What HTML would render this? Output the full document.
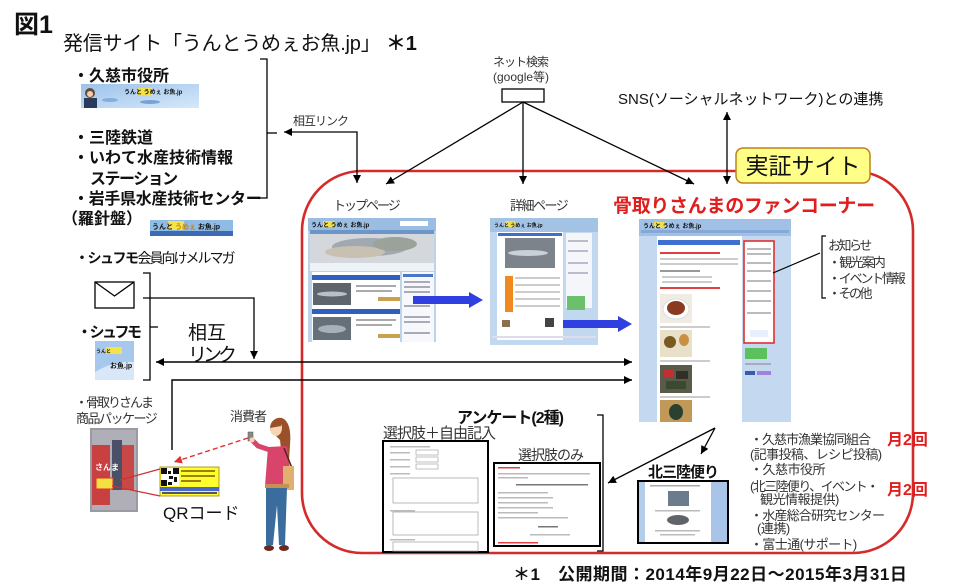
<!DOCTYPE html>
<html><head><meta charset="utf-8"><style>
html,body{margin:0;padding:0;background:#fff;}
body{width:960px;height:586px;overflow:hidden;}
svg{display:block;}
text{font-family:"Liberation Sans","Noto Sans CJK JP",sans-serif;fill:#111;}
.b{font-weight:bold;}
.g{fill:#333;}
</style></head><body>
<svg width="960" height="586" viewBox="0 0 960 586" xmlns="http://www.w3.org/2000/svg">
<defs>
<marker id="ah" viewBox="0 0 10 10" refX="10" refY="5" markerWidth="8" markerHeight="8" markerUnits="userSpaceOnUse" orient="auto-start-reverse"><path d="M0,0 L10,5 L0,10 z" fill="#000"/></marker>
<marker id="ahr" viewBox="0 0 10 10" refX="10" refY="5" markerWidth="8" markerHeight="8" markerUnits="userSpaceOnUse" orient="auto"><path d="M0,0 L10,5 L0,10 z" fill="#d33"/></marker>
<linearGradient id="bn" x1="0" y1="0" x2="1" y2="1"><stop offset="0" stop-color="#9cc2ea"/><stop offset="1" stop-color="#d6e8fa"/></linearGradient>
</defs>

<!-- red border -->
<path d="M362,171 H853 A60,60 0 0 1 913,231 V493 A60,60 0 0 1 853,553 H362 A60,60 0 0 1 302,493 V231 A60,60 0 0 1 362,171 Z" fill="none" stroke="#d42a2a" stroke-width="2.6"/>

<!-- title -->
<text x="14" y="33" font-size="25" class="b">図1</text>
<text x="63" y="50" font-size="20" letter-spacing="-0.2">発信サイト「うんとうめぇお魚.jp」 <tspan class="b">＊1</tspan></text>

<!-- left list -->
<text x="73" y="81" font-size="16" class="b">・久慈市役所</text>
<text x="73" y="143" font-size="16" class="b">・三陸鉄道</text>
<text x="73" y="163" font-size="16" class="b">・いわて水産技術情報</text>
<text x="90" y="184" font-size="16" class="b" letter-spacing="-1.5">ステーション</text>
<text x="73" y="204" font-size="16" class="b" letter-spacing="-0.3">・岩手県水産技術センター</text>
<text x="62" y="224" font-size="16" class="b">（羅針盤）</text>

<!-- banner 1 -->
<rect x="81" y="84" width="118" height="24" fill="url(#bn)"/>
<circle cx="90" cy="93" r="5" fill="#6a4a30"/>
<rect x="84" y="98" width="13" height="10" fill="#2a3a5a"/>
<circle cx="90" cy="94" r="3" fill="#f0d0b0"/>
<rect x="138" y="88" width="14" height="7" fill="#f4e24a"/>
<text x="124" y="94" font-size="6" class="b" fill="#223">うんと うめぇ お魚.jp</text>
<ellipse cx="150" cy="102" rx="10" ry="2" fill="#7aa2d2"/>
<ellipse cx="110" cy="100" rx="8" ry="2" fill="#86aed8"/>

<!-- banner 2 -->
<rect x="150" y="220" width="83" height="16" fill="#8fbbe4"/>
<rect x="150" y="231" width="83" height="5" fill="#3b6bb2"/>
<rect x="168" y="221" width="16" height="9" fill="#f4e24a"/>
<text x="152" y="229" font-size="7" class="b" fill="#223">うんと <tspan fill="#d08000">うめぇ</tspan> お魚.jp</text>

<!-- left bracket -->
<path d="M260,59 H267 V198 H258" fill="none" stroke="#000" stroke-width="1.3"/>
<path d="M267,133 H277" fill="none" stroke="#000" stroke-width="1.3"/>

<!-- 相互リンク small -->
<text x="293" y="125" font-size="12" letter-spacing="-1" class="g">相互リンク</text>
<path d="M357,183 V132 H284" fill="none" stroke="#000" stroke-width="1.3" marker-start="url(#ah)" marker-end="url(#ah)"/>

<!-- google -->
<text x="493" y="66" font-size="12" letter-spacing="-1" class="g">ネット検索</text>
<text x="493" y="81" font-size="12" class="g">(google等)</text>
<rect x="502" y="89" width="42" height="13" fill="#fff" stroke="#000" stroke-width="1.3"/>
<line x1="523" y1="102" x2="386" y2="184" stroke="#000" stroke-width="1.3" marker-end="url(#ah)"/>
<line x1="523" y1="102" x2="523" y2="184" stroke="#000" stroke-width="1.3" marker-end="url(#ah)"/>
<line x1="523" y1="102" x2="694" y2="184" stroke="#000" stroke-width="1.3" marker-end="url(#ah)"/>

<!-- SNS -->
<text x="618" y="104" font-size="15">SNS(ソーシャルネットワーク)との連携</text>
<line x1="727" y1="112" x2="727" y2="184" stroke="#000" stroke-width="1.3" marker-start="url(#ah)" marker-end="url(#ah)"/>

<!-- 実証サイト -->
<rect x="736" y="148" width="134" height="35" rx="7" fill="#ffff88" stroke="#c0801a" stroke-width="1.5"/>
<text x="803" y="174" font-size="23" text-anchor="middle">実証サイト</text>

<!-- page labels -->
<text x="333" y="210" font-size="13" letter-spacing="-2" class="g">トップページ</text>
<text x="510" y="210" font-size="13" letter-spacing="-1.5" class="g">詳細ページ</text>
<text x="613" y="212" font-size="19" class="b" style="fill:#e01e1e" letter-spacing="-0.3">骨取りさんまのファンコーナー</text>

<!-- top page screenshot -->
<g>
<rect x="308" y="218" width="128" height="124" fill="#bcd3ea"/>
<rect x="308" y="218" width="128" height="13" fill="#9cbde2"/>
<rect x="323" y="221" width="12" height="6" fill="#f0e050"/>
<text x="311" y="227" font-size="6" class="b" fill="#223">うんと うめぇ お魚.jp</text>
<rect x="400" y="221" width="28" height="5" fill="#fff"/>
<rect x="310" y="230" width="124" height="4" fill="#6d96c8"/>
<rect x="310" y="234" width="124" height="29" fill="#d4d8dc"/>
<ellipse cx="370" cy="247" rx="38" ry="9" fill="#a0a8b0"/>
<ellipse cx="355" cy="252" rx="30" ry="6" fill="#c8c0b0"/>
<ellipse cx="395" cy="244" rx="22" ry="7" fill="#9aa29a"/>
<rect x="310" y="263" width="124" height="8" fill="#eef3f8"/>
<rect x="312" y="272" width="88" height="70" fill="#fff"/>
<rect x="312" y="275" width="88" height="5" fill="#2f5fbf"/>
<rect x="312" y="309" width="88" height="5" fill="#2f5fbf"/>
<rect x="313" y="283" width="38" height="22" fill="#5e656c"/>
<ellipse cx="332" cy="294" rx="15" ry="2.5" fill="#b8c0c8"/>
<rect x="313" y="317" width="38" height="23" fill="#667078"/>
<ellipse cx="332" cy="329" rx="14" ry="4" fill="#a8b0b8"/>
<rect x="356" y="285" width="40" height="2" fill="#aaa"/><rect x="356" y="290" width="36" height="2" fill="#aaa"/>
<rect x="356" y="319" width="40" height="2" fill="#aaa"/><rect x="356" y="324" width="36" height="2" fill="#aaa"/>
<rect x="378" y="297" width="22" height="4" fill="#c8a050"/>
<rect x="378" y="334" width="22" height="4" fill="#c8a050"/>
<rect x="402" y="272" width="32" height="70" fill="#f6f8fb"/>
<rect x="403" y="274" width="30" height="3" fill="#4a78c8"/>
<rect x="404" y="281" width="26" height="2" fill="#aab"/><rect x="404" y="286" width="26" height="2" fill="#aab"/><rect x="404" y="291" width="26" height="2" fill="#aab"/><rect x="404" y="305" width="26" height="2" fill="#aab"/><rect x="404" y="316" width="26" height="2" fill="#aab"/><rect x="404" y="321" width="26" height="2" fill="#aab"/><rect x="404" y="332" width="26" height="2" fill="#aab"/>
</g>

<!-- detail page screenshot -->
<g>
<rect x="490" y="218" width="108" height="127" fill="#c2d8ee"/>
<rect x="490" y="218" width="108" height="14" fill="#a4c2e4"/>
<rect x="505" y="221" width="10" height="6" fill="#f0e050"/>
<text x="494" y="227" font-size="5" class="b" fill="#223">うんと うめぇ お魚.jp</text>
<rect x="497" y="232" width="66" height="108" fill="#fff"/>
<rect x="498" y="233" width="64" height="3" fill="#3f6fc8"/>
<rect x="505" y="238" width="50" height="30" fill="#7c838a"/>
<ellipse cx="528" cy="253" rx="20" ry="3" fill="#c8d0d8"/>
<rect x="505" y="276" width="8" height="36" fill="#f08a20"/>
<rect x="515" y="277" width="45" height="2" fill="#ccc"/><rect x="515" y="284" width="45" height="2" fill="#ccc"/><rect x="515" y="291" width="45" height="2" fill="#ccc"/><rect x="515" y="298" width="45" height="2" fill="#ccc"/><rect x="515" y="305" width="45" height="2" fill="#ccc"/>
<rect x="502" y="320" width="8" height="7" fill="#8a7050"/>
<rect x="545" y="318" width="9" height="9" fill="#444"/>
<rect x="566" y="233" width="26" height="75" fill="#f4f6fa"/>
<rect x="568" y="240" width="20" height="2" fill="#bbc"/><rect x="568" y="250" width="20" height="2" fill="#bbc"/><rect x="568" y="262" width="20" height="2" fill="#bbc"/><rect x="568" y="272" width="20" height="2" fill="#bbc"/>
<rect x="567" y="296" width="18" height="14" fill="#6cc06c"/>
<rect x="492" y="336" width="104" height="2" fill="#dde"/>
</g>

<!-- fan page screenshot -->
<g>
<rect x="639" y="219" width="152" height="203" fill="#c4d8f0"/>
<rect x="639" y="219" width="152" height="17" fill="#a0c0e6"/>
<rect x="654" y="222" width="12" height="6" fill="#f0e050"/>
<text x="643" y="228" font-size="6" class="b" fill="#223">うんと うめぇ お魚.jp</text>
<rect x="641" y="230" width="148" height="3" fill="#86a8d6"/>
<rect x="657" y="236" width="85" height="186" fill="#fff"/>
<rect x="658" y="240" width="82" height="5" fill="#3f6fd0"/>
<rect x="660" y="252" width="60" height="2" fill="#e04040"/>
<rect x="660" y="258" width="78" height="2" fill="#ccc"/><rect x="660" y="263" width="78" height="2" fill="#ccc"/>
<rect x="660" y="270" width="40" height="2" fill="#999"/>
<rect x="662" y="276" width="50" height="2" fill="#ccc"/><rect x="662" y="281" width="50" height="2" fill="#ccc"/>
<rect x="660" y="287" width="60" height="2" fill="#e04040"/>
<rect x="660" y="294" width="32" height="29" fill="#f0ece4"/>
<ellipse cx="676" cy="309" rx="13" ry="10" fill="#fff" stroke="#ddd"/>
<ellipse cx="676" cy="308" rx="9" ry="7" fill="#8a3a20"/>
<rect x="660" y="326" width="50" height="2" fill="#ccc"/>
<rect x="660" y="330" width="32" height="27" fill="#e8e0c8"/>
<ellipse cx="670" cy="342" rx="6" ry="6" fill="#7a5a20"/><ellipse cx="684" cy="340" rx="5" ry="6" fill="#c89040"/>
<rect x="660" y="360" width="50" height="2" fill="#ccc"/>
<rect x="660" y="365" width="32" height="28" fill="#5a5a4a"/>
<rect x="664" y="369" width="10" height="8" fill="#c03030"/><rect x="676" y="371" width="12" height="8" fill="#303028"/><rect x="666" y="381" width="20" height="8" fill="#3a4a30"/>
<rect x="660" y="396" width="50" height="2" fill="#ccc"/>
<rect x="660" y="400" width="32" height="22" fill="#c09858"/>
<ellipse cx="676" cy="412" rx="7" ry="8" fill="#2a4030"/>
<rect x="744" y="241" width="30" height="102" fill="#fff" stroke="#e03030" stroke-width="1.6"/>
<rect x="747" y="248" width="24" height="2" fill="#bbb"/><rect x="747" y="253" width="24" height="2" fill="#bbb"/><rect x="747" y="262" width="24" height="2" fill="#bbb"/><rect x="747" y="270" width="24" height="2" fill="#bbb"/><rect x="747" y="280" width="24" height="2" fill="#bbb"/><rect x="747" y="290" width="24" height="2" fill="#bbb"/><rect x="747" y="300" width="24" height="2" fill="#bbb"/><rect x="747" y="312" width="24" height="2" fill="#bbb"/>
<rect x="750" y="330" width="18" height="7" fill="#e8f0ff"/>
<rect x="745" y="348" width="22" height="11" fill="#5cc05c"/>
<rect x="745" y="363" width="26" height="2" fill="#aab"/>
<rect x="745" y="371" width="10" height="4" fill="#3a5ab0"/><rect x="757" y="371" width="14" height="4" fill="#a080e0"/>
</g>
<line x1="773" y1="273" x2="820" y2="253" stroke="#000" stroke-width="1.2"/>
<path d="M826,236 H822 V298 H826" fill="none" stroke="#000" stroke-width="1.2"/>
<text x="828" y="250" font-size="13" letter-spacing="-2.5" class="g">お知らせ</text>
<text x="828" y="267" font-size="13" letter-spacing="-1.8" class="g">・観光案内</text>
<text x="828" y="283" font-size="13" letter-spacing="-2.2" class="g">・イベント情報</text>
<text x="828" y="298" font-size="13" letter-spacing="-2.5" class="g">・その他</text>

<!-- blue arrows -->
<path d="M413,296 H469 V292 L483,300 L469,308 V304 H413 Z" fill="#2f3fe0"/>
<path d="M563,320 H618 V316 L632,324 L618,332 V328 H563 Z" fill="#2f3fe0"/>

<!-- mail / shufumo -->
<text x="75" y="263" font-size="14"><tspan class="b" letter-spacing="-1.5">・シュフモ</tspan><tspan letter-spacing="-2">会員向けメルマガ</tspan></text>
<rect x="95" y="282" width="39" height="26" fill="#fff" stroke="#000" stroke-width="1.3"/>
<polyline points="95,282 114.5,296 134,282" fill="none" stroke="#000" stroke-width="1.3"/>
<text x="77" y="337" font-size="15" class="b" letter-spacing="-2.5">・シュフモ</text>
<rect x="95" y="341" width="39" height="39" fill="#a6c8ec"/>
<path d="M95,372 Q115,360 134,362 V380 H95 Z" fill="#d8e8f8"/>
<rect x="106" y="347" width="16" height="7" fill="#f4e24a"/>
<text x="96" y="353" font-size="5" class="b" fill="#223">うんと</text>
<text x="110" y="368" font-size="7" class="b" fill="#234">お魚.jp</text>
<path d="M143,273 H150 V380 H143" fill="none" stroke="#000" stroke-width="1.3"/>
<path d="M150,327 H158" fill="none" stroke="#000" stroke-width="1.3"/>
<text x="188" y="339" font-size="19">相互</text>
<text x="188" y="361" font-size="19" letter-spacing="-4">リンク</text>
<path d="M143,298 H254 V359" fill="none" stroke="#000" stroke-width="1.3" marker-end="url(#ah)"/>
<line x1="156" y1="362" x2="632" y2="362" stroke="#000" stroke-width="1.4" marker-start="url(#ah)" marker-end="url(#ah)"/>
<path d="M172,450 V380 H632" fill="none" stroke="#000" stroke-width="1.4" marker-end="url(#ah)"/>

<!-- package -->
<text x="75" y="407" font-size="13" letter-spacing="-2" class="g">・骨取りさんま</text>
<text x="76" y="423" font-size="13" letter-spacing="-1.5" class="g">商品パッケージ</text>
<rect x="90" y="428" width="48" height="84" fill="#9a9aa2"/>
<rect x="92" y="430" width="44" height="80" fill="#b0aeb6"/>
<rect x="92" y="445" width="18" height="60" fill="#c84040"/>
<rect x="112" y="440" width="10" height="50" fill="#4a5068"/>
<rect x="122" y="445" width="12" height="45" fill="#c84848"/>
<text x="95" y="470" font-size="8" class="b" style="fill:#fff">さんま</text>
<rect x="96" y="478" width="17" height="11" fill="#f4e040" stroke="#e03030" stroke-width="1"/>
<line x1="120" y1="480" x2="160" y2="469" stroke="#d03030" stroke-width="1.2"/>
<line x1="112" y1="486" x2="160" y2="496" stroke="#d03030" stroke-width="1.2"/>

<!-- QR -->
<rect x="160" y="467" width="59" height="29" fill="#ffff30" stroke="#a08000" stroke-width="0.8"/>
<rect x="161" y="468" width="18" height="18" fill="#fff"/>
<g fill="#111">
<rect x="161" y="468" width="6" height="6"/><rect x="173" y="468" width="6" height="6"/><rect x="161" y="480" width="6" height="6"/>
<rect x="168" y="471" width="3" height="3"/><rect x="169" y="476" width="4" height="3"/><rect x="174" y="477" width="3" height="5"/><rect x="168" y="482" width="4" height="3"/>
</g>
<rect x="181" y="470" width="34" height="2" fill="#a08000"/><rect x="181" y="475" width="34" height="2" fill="#a08000"/><rect x="181" y="480" width="20" height="2" fill="#a08000"/>
<rect x="160" y="487" width="59" height="4" fill="#4a68c8"/>
<rect x="162" y="492" width="55" height="2" fill="#556"/>
<text x="163" y="519" font-size="17">QRコード</text>

<!-- consumer -->
<text x="230" y="421" font-size="13" letter-spacing="-1" class="g">消費者</text>
<line x1="248" y1="438" x2="174" y2="462" stroke="#d33" stroke-width="1.4" stroke-dasharray="5,3" marker-end="url(#ahr)"/>
<g>
<path d="M270,430 Q272,416 282,418 Q292,422 290,445 L289,460 L282,458 L280,440 Z" fill="#9a5028"/>
<ellipse cx="276" cy="428" rx="6" ry="8" fill="#f6d4b4"/>
<path d="M270,428 Q271,417 282,419 L281,426 Z" fill="#9a5028"/>
<path d="M268,447 L287,446 L292,484 L265,486 Z" fill="#d8446a"/>
<path d="M270,450 L258,446 L252,440" fill="none" stroke="#d8446a" stroke-width="5" stroke-linecap="round"/>
<rect x="248" y="432" width="5" height="9" fill="#888" stroke="#555" stroke-width="0.5"/>
<circle cx="252" cy="440" r="2.5" fill="#f6d4b4"/>
<path d="M284,448 L292,468" stroke="#4a2a1a" stroke-width="1.5"/>
<rect x="283" y="466" width="11" height="24" fill="#e0b070"/>
<rect x="265" y="484" width="24" height="4" fill="#c89050"/>
<path d="M266,488 L287,488 L285,545 L279,545 L277,505 L273,545 L266,545 Z" fill="#3a6c9e"/>
<ellipse cx="269" cy="548" rx="5" ry="3" fill="#6a2a20"/>
<ellipse cx="284" cy="548" rx="5" ry="3" fill="#6a2a20"/>
</g>

<!-- fan page bottom arrows -->
<line x1="715" y1="428" x2="701" y2="454" stroke="#000" stroke-width="1.3" marker-end="url(#ah)"/>
<line x1="715" y1="428" x2="608" y2="483" stroke="#000" stroke-width="1.3" marker-end="url(#ah)"/>

<!-- survey -->
<text x="457" y="423" font-size="16" class="b" letter-spacing="-1">アンケート(2種)</text>
<text x="383" y="438" font-size="15" letter-spacing="-1" class="g">選択肢＋自由記入</text>
<rect x="383" y="441" width="105" height="111" fill="#fff" stroke="#000" stroke-width="2"/>
<g fill="#bbb">
<rect x="390" y="446" width="40" height="1.5"/>
<rect x="390" y="452" width="20" height="1.5"/><rect x="416" y="450" width="22" height="5" fill="none" stroke="#999" stroke-width="0.6"/>
<rect x="390" y="459" width="20" height="1.5"/><rect x="416" y="457" width="22" height="5" fill="none" stroke="#999" stroke-width="0.6"/>
<rect x="390" y="466" width="20" height="1.5"/><rect x="416" y="464" width="22" height="5" fill="none" stroke="#999" stroke-width="0.6"/>
<rect x="390" y="473" width="20" height="1.5"/>
<rect x="390" y="510" width="25" height="1.5"/>
<rect x="390" y="539" width="25" height="1.5"/>
</g>
<rect x="393" y="478" width="85" height="25" fill="#fff" stroke="#aaa" stroke-width="0.8"/>
<rect x="393" y="512" width="85" height="23" fill="#fff" stroke="#aaa" stroke-width="0.8"/>
<rect x="393" y="542" width="85" height="9" fill="#fff" stroke="#aaa" stroke-width="0.8"/>

<text x="518" y="460" font-size="14" letter-spacing="-1" class="g">選択肢のみ</text>
<rect x="494" y="463" width="106" height="83" fill="#fff" stroke="#000" stroke-width="2"/>
<g fill="#bbb">
<rect x="498" y="467" width="22" height="1.5" fill="#e04040"/>
<rect x="498" y="473" width="92" height="1.5"/><rect x="498" y="477" width="30" height="1.5"/>
<rect x="516" y="484" width="72" height="1.5" fill="#777"/>
<rect x="498" y="492" width="50" height="1.5"/><rect x="498" y="497" width="55" height="1.5"/><rect x="498" y="502" width="50" height="1.5"/><rect x="498" y="507" width="55" height="1.5"/><rect x="498" y="512" width="40" height="1.5"/><rect x="498" y="517" width="70" height="1.5"/>
<rect x="538" y="526" width="20" height="1.5" fill="#777"/>
<rect x="530" y="534" width="40" height="1.5"/>
<rect x="498" y="542" width="40" height="1.5" fill="#e04040"/>
</g>
<path d="M597,415 H603 V551 H597" fill="none" stroke="#000" stroke-width="1.3"/>

<!-- kita sanriku -->
<text x="648" y="477" font-size="15" class="b" letter-spacing="-1">北三陸便り</text>
<rect x="638" y="481" width="90" height="62" fill="#fff" stroke="#000" stroke-width="2"/>
<rect x="639" y="482" width="6" height="60" fill="#b4cdea"/>
<rect x="711" y="482" width="16" height="60" fill="#a8c4e8"/>
<rect x="650" y="485" width="50" height="1.5" fill="#aaa"/>
<rect x="668" y="491" width="21" height="15" fill="#6c7c8c"/>
<rect x="655" y="510" width="45" height="1.5" fill="#bbb"/>
<ellipse cx="678" cy="520" rx="11" ry="5" fill="#606468"/>
<rect x="655" y="530" width="45" height="1.5" fill="#bbb"/><rect x="660" y="534" width="35" height="1.5" fill="#bbb"/>

<!-- right list -->
<g font-size="13" letter-spacing="-0.5">
<text x="750" y="444" class="g" letter-spacing="-1">・久慈市漁業協同組合</text>
<text x="750" y="459" class="g" letter-spacing="-0.6">(記事投稿、レシピ投稿)</text>
<text x="750" y="474" class="g">・久慈市役所</text>
<text x="750" y="491" class="g" letter-spacing="-1.6">(北三陸便り、イベント・</text>
<text x="760" y="504" class="g">観光情報提供)</text>
<text x="750" y="520" class="g" letter-spacing="-0.8">・水産総合研究センター</text>
<text x="757" y="533" class="g">(連携)</text>
<text x="750" y="549" class="g" letter-spacing="-0.6">・富士通(サポート)</text>
</g>
<text x="887" y="445" font-size="16" class="b" style="fill:#e01e1e">月2回</text>
<text x="887" y="495" font-size="16" class="b" style="fill:#e01e1e">月2回</text>

<!-- footer -->
<text x="513" y="580" font-size="17" class="b" letter-spacing="0.5">＊1　公開期間：2014年9月22日～2015年3月31日</text>
</svg>
</body></html>
